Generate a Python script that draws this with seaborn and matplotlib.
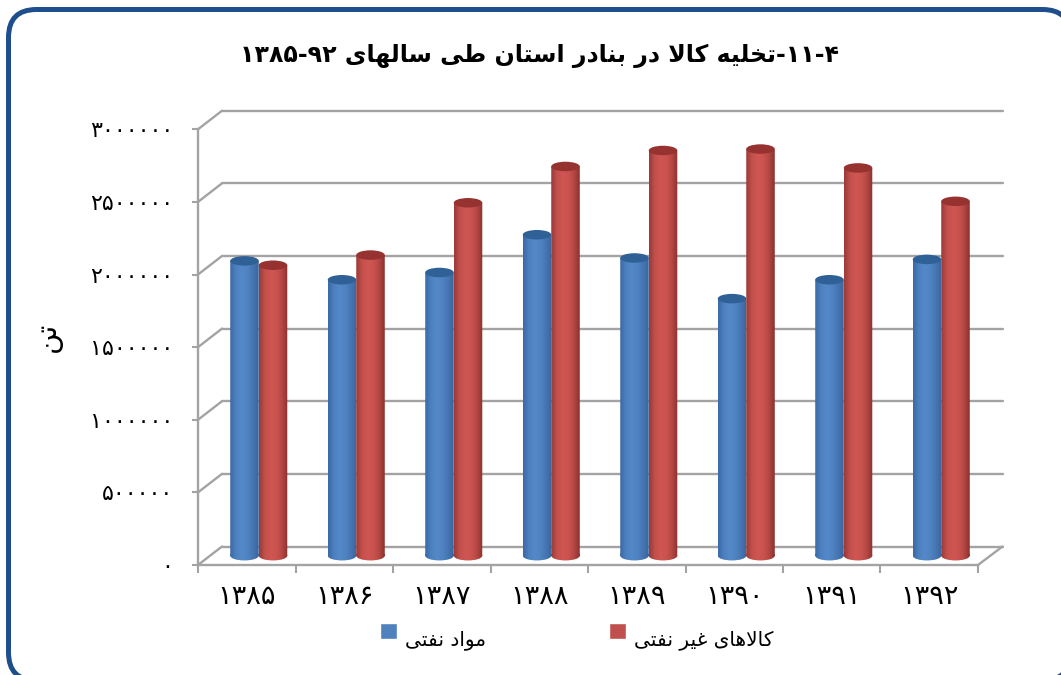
import numpy as np
import pandas as pd
import seaborn as sns
import matplotlib
matplotlib.use('Agg')
import matplotlib.pyplot as plt
from matplotlib.colors import LinearSegmentedColormap
from matplotlib.patches import ConnectionPatch, Ellipse, FancyBboxPatch, Rectangle
from matplotlib.path import Path

# Chart data
years = ['۱۳۸۵', '۱۳۸۶', '۱۳۸۷', '۱۳۸۸', '۱۳۸۹', '۱۳۹۰', '۱۳۹۱', '۱۳۹۲']
oil = [2030000, 1900000, 1950000, 2210000, 2050000, 1770000, 1900000, 2040000]
non_oil = [2000000, 2070000, 2430000, 2680000, 2790000, 2800000, 2670000, 2440000]
y_ticks = [0, 500000, 1000000, 1500000, 2000000, 2500000, 3000000]
title = '۴-۱۱-تخلیه کالا در بنادر استان طی سالهای ۹۲-۱۳۸۵'
y_title = 'تن'
oil_name = 'مواد نفتی'
non_oil_name = 'کالاهای غیر نفتی'

# Figure size and wall offsets, in pixels
W, H = 1061, 675
GRAY = '#a3a3a3'

# isolated, final, initial, medial
FORMS = {
    'ا': 'ﺍﺎ', 'د': 'ﺩﺪ', 'ر': 'ﺭﺮ', 'و': 'ﻭﻮ',
    'ب': 'ﺏﺐﺑﺒ', 'ت': 'ﺕﺖﺗﺘ', 'خ': 'ﺥﺦﺧﺨ', 'س': 'ﺱﺲﺳﺴ',
    'ط': 'ﻁﻂﻃﻄ', 'غ': 'ﻍﻎﻏﻐ', 'ف': 'ﻑﻒﻓﻔ', 'ل': 'ﻝﻞﻟﻠ',
    'م': 'ﻡﻢﻣﻤ', 'ن': 'ﻥﻦﻧﻨ', 'ه': 'ﻩﻪﻫﻬ', 'ک': 'ﮎﮏﮐﮑ', 'ی': 'ﯼﯽﯾﯿ',
}
DIGITS = '۰۱۲۳۴۵۶۷۸۹'


def shape(text):
    # matplotlib has no Arabic shaping, so pick the joined forms and lay out right to left
    out = []
    i = 0
    joined = False
    while i < len(text):
        c = text[i]
        if c not in FORMS:
            out.append(c)
            joined = False
            i += 1
            continue
        if c == 'ل' and text[i + 1:i + 2] == 'ا':
            out.append('ﻼ' if joined else 'ﻻ')
            joined = False
            i += 2
            continue
        nxt = text[i + 1:i + 2]
        forms = FORMS[c]
        goes_on = len(forms) == 4 and nxt in FORMS
        out.append(forms[(1 if joined else 0) + (2 if goes_on else 0)])
        joined = goes_on
        i += 1
    visual = ''.join(out)[::-1]
    # digit runs stay left to right
    result, run = '', ''
    for c in visual:
        if c in DIGITS:
            run += c
        else:
            result += run[::-1] + c
            run = ''
    return result + run[::-1]


def to_persian(value):
    return ''.join(DIGITS[int(d)] for d in str(value))


def rect(left, top, right, bottom):
    return [left / W, 1 - bottom / H, (right - left) / W, (bottom - top) / H]


sns.set_theme(style='white')
plt.rcParams['font.family'] = ['DejaVu Sans']

df = pd.DataFrame({
    'year': years * 2,
    'tons': oil + non_oil,
    'kind': [oil_name] * 8 + [non_oil_name] * 8,
})

fig = plt.figure(figsize=(W / 100, H / 100), dpi=100, facecolor='white')

# Rounded frame
ax_frame = fig.add_axes([0, 0, 1, 1], zorder=0)
ax_frame.set_xlim(0, W)
ax_frame.set_ylim(H, 0)
ax_frame.axis('off')
ax_frame.add_patch(FancyBboxPatch((8.5, 9.5), 1062, 671, boxstyle='round,pad=0,rounding_size=28',
                                  facecolor='white', edgecolor='#1f4e8c', linewidth=3.6))

# Three planes of the fake 3D box: back wall, bars, front
ax_back = fig.add_axes(rect(222, 110.7, 1002.5, 546.5), zorder=1)
ax_bars = fig.add_axes(rect(210, 120, 990, 555.7), zorder=2)
ax_front = fig.add_axes(rect(198, 129.3, 978, 565), zorder=3)

for ax in (ax_back, ax_bars, ax_front):
    ax.set_xlim(-0.5, 7.5)
    ax.set_ylim(0, 3000000)
    ax.patch.set_alpha(0)

# Back wall lines
ax_back.set_xticks([])
ax_back.set_yticks(y_ticks)
ax_back.tick_params(left=False, labelleft=False)
ax_back.grid(axis='y', color=GRAY, linewidth=1.7)
ax_back.set_axisbelow(False)
for line in ax_back.get_ygridlines():
    line.set_clip_on(False)
sns.despine(ax=ax_back, left=True, bottom=True)

# Side wall and floor diagonals
for v in y_ticks:
    fig.add_artist(ConnectionPatch((-0.5, v), (-0.5, v), 'data', 'data', axesA=ax_front, axesB=ax_back,
                                   color=GRAY, linewidth=1.7, zorder=1.5))
fig.add_artist(ConnectionPatch((7.5, 0), (7.5, 0), 'data', 'data', axesA=ax_front, axesB=ax_back,
                               color=GRAY, linewidth=1.7, zorder=1.5))

# Bars
sns.barplot(data=df, x='year', y='tons', hue='kind', order=years, hue_order=[oil_name, non_oil_name],
            palette=['#4f81bd', '#c0504d'], width=0.585, gap=0, saturation=1, legend=True, ax=ax_bars)
handles, _ = ax_bars.get_legend_handles_labels()
ax_bars.get_legend().remove()
ax_bars.axis('off')

shades = [
    (LinearSegmentedColormap.from_list('b', ['#3a6aa6', '#4d80bf', '#5488c8', '#5083c2', '#4676b2', '#38659e']), '#2f6096'),
    (LinearSegmentedColormap.from_list('r', ['#9a3a38', '#c2504c', '#cf5652', '#cb534f', '#b54744', '#8a302e']), '#96322f'),
]
ell_h = 9.5 * 3000000 / 435.7
gradient = np.linspace(0, 1, 64).reshape(1, -1)

for container, (cmap, top_color) in zip(ax_bars.containers, shades):
    for bar in container:
        x, w, top = bar.get_x(), bar.get_width(), bar.get_height()
        bar.set_visible(False)
        cx = x + w / 2
        low = Ellipse((cx, 0), w, ell_h).get_path().transformed(Ellipse((cx, 0), w, ell_h).get_patch_transform())
        body = Rectangle((x, 0), w, top).get_path().transformed(Rectangle((x, 0), w, top).get_patch_transform())
        im = ax_bars.imshow(gradient, cmap=cmap, aspect='auto', zorder=3,
                            extent=(x, x + w, -ell_h, top))
        im.set_clip_box(fig.bbox)
        im.set_clip_path(Path.make_compound_path(low, body), ax_bars.transData)
        ax_bars.add_patch(Ellipse((cx, top), w, ell_h, facecolor=top_color, edgecolor='none',
                                  zorder=3.1, clip_on=False))
ax_bars.set_xlim(-0.5, 7.5)
ax_bars.set_ylim(0, 3000000)

# Front axes
ax_front.set_yticks(y_ticks)
ax_front.set_yticklabels([to_persian(v) for v in y_ticks], fontsize=16, color='black')
ax_front.set_xticks(np.arange(-0.5, 8))
ax_front.set_xticklabels([])
ax_front.set_xticks(range(8), years, minor=True, fontsize=19.5, color='black')
ax_front.tick_params(axis='y', which='major', left=True, length=4.6, width=1.5, color=GRAY, pad=13)
ax_front.tick_params(axis='x', which='major', bottom=True, length=5.5, width=1.5, color=GRAY)
ax_front.tick_params(axis='x', which='minor', bottom=False, length=0, pad=14)
sns.despine(ax=ax_front)
for side in ('left', 'bottom'):
    ax_front.spines[side].set_color(GRAY)
    ax_front.spines[side].set_linewidth(1.7)

ax_front.set_ylabel(shape(y_title), fontsize=21, color='black', rotation=90)
ax_front.yaxis.set_label_coords((62 - 198) / 780, (565 - 337) / 435.7)

fig.text(539 / W, 1 - 56 / H, shape(title), ha='center', va='center', fontsize=17,
         fontweight='bold', color='black')

# Legend
leg = fig.legend(handles, [shape(oil_name), shape(non_oil_name)], ncol=2, frameon=False, fontsize=14.5,
                 loc='center left', bbox_to_anchor=(362 / W, 1 - 640 / H), handlelength=0.85, handleheight=0.85,
                 handletextpad=0.4, columnspacing=6.1, labelcolor='black')
for p in leg.get_patches():
    p.set_y(p.get_y() + 5)

fig.savefig('out.png', dpi=100)
plt.close(fig)
